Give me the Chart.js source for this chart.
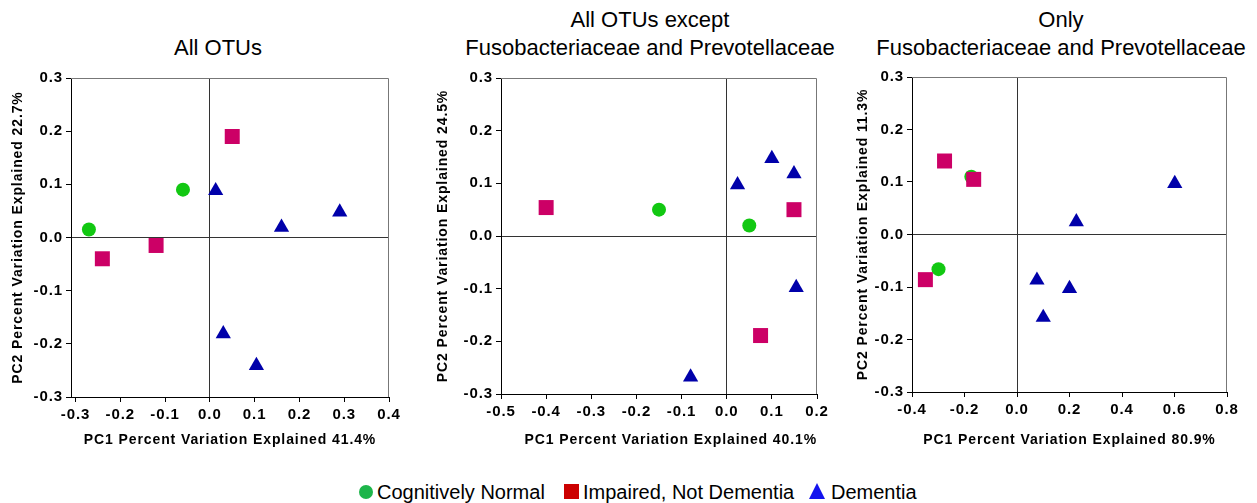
<!DOCTYPE html>
<html>
<head>
<meta charset="utf-8">
<script src="https://cdn.jsdelivr.net/npm/chart.js@4"></script>
<style>
body{margin:0;background:#fff;width:1257px;height:503px;position:relative;overflow:hidden;font-family:"Liberation Sans",Arial,sans-serif;color:#000}
.t{position:absolute;font-size:22px;line-height:28px;text-align:center;white-space:nowrap;transform:translateX(-50%)}
canvas{position:absolute;top:60px}
.lg{position:absolute;top:481px;font-size:20px;line-height:22px;white-space:nowrap}
.sym{position:absolute}
</style>
</head>
<body>
<div class="t" style="left:218px;top:34px">All OTUs</div>
<div class="t" style="left:650px;top:6px">All OTUs except<br>Fusobacteriaceae and Prevotellaceae</div>
<div class="t" style="left:1061px;top:6px">Only<br>Fusobacteriaceae and Prevotellaceae</div>

<canvas id="c1" width="410" height="400" style="left:0px"></canvas>
<canvas id="c2" width="420" height="400" style="left:420px"></canvas>
<canvas id="c3" width="417" height="400" style="left:840px"></canvas>

<div class="sym" style="left:359px;top:485px;width:14px;height:14px;border-radius:50%;background:#1db54a"></div>
<div class="lg" style="left:377px">Cognitively Normal</div>
<div class="sym" style="left:564px;top:484px;width:15px;height:15px;background:#cc0000"></div>
<div class="lg" style="left:583px">Impaired, Not Dementia</div>
<div class="sym" style="left:809px;top:483px;width:0;height:0;border-left:8.5px solid transparent;border-right:8.5px solid transparent;border-bottom:16px solid #1414ee"></div>
<div class="lg" style="left:831px">Dementia</div>

<script>
// tick values
const yTicks = [-0.3, -0.2, -0.1, 0, 0.1, 0.2, 0.3];
const xTicks1 = [-0.3, -0.2, -0.1, 0, 0.1, 0.2, 0.3, 0.4];
const xTicks2 = [-0.5, -0.4, -0.3, -0.2, -0.1, 0, 0.1, 0.2];
const xTicks3 = [-0.4, -0.2, 0, 0.2, 0.4, 0.6, 0.8];

// All OTUs
const normal1 = [[-0.27, 0.015], [-0.06, 0.09]];
const impaired1 = [[0.05, 0.19], [-0.12, -0.015], [-0.24, -0.04]];
const dementia1 = [[0.013, 0.088], [0.16, 0.019], [0.29, 0.048], [0.03, -0.181], [0.104, -0.241]];

// All OTUs except Fusobacteriaceae and Prevotellaceae
const normal2 = [[-0.15, 0.05], [0.05, 0.02]];
const impaired2 = [[-0.4, 0.054], [0.149, 0.05], [0.075, -0.189]];
const dementia2 = [[0.024, 0.097], [0.1, 0.147], [0.149, 0.118], [0.154, -0.098], [-0.08, -0.268]];

// Only Fusobacteriaceae and Prevotellaceae
const normal3 = [[-0.174, 0.11], [-0.299, -0.066]];
const impaired3 = [[-0.276, 0.14], [-0.165, 0.105], [-0.349, -0.086]];
const dementia3 = [[0.601, 0.097], [0.226, 0.024], [0.076, -0.087], [0.2, -0.103], [0.1, -0.158]];

const toPts = arr => arr.map(p => ({x: p[0], y: p[1]}));

const spacing = {
    id: 'spacing',
    beforeUpdate(c) { c.ctx.letterSpacing = '0.9px'; },
    beforeLayout(c) { c.ctx.letterSpacing = '0.9px'; },
    beforeDraw(c) { c.ctx.letterSpacing = '0.9px'; }
};

// top + right edges of the box
const frame = {
    id: 'frame',
    beforeDatasetsDraw(c) {
        const ctx = c.ctx, a = c.chartArea;
        ctx.save();
        ctx.strokeStyle = '#777';
        ctx.lineWidth = 1;
        ctx.beginPath();
        ctx.moveTo(a.left, Math.round(a.top) + 0.5);
        ctx.lineTo(Math.round(a.right) - 0.5, Math.round(a.top) + 0.5);
        ctx.lineTo(Math.round(a.right) - 0.5, a.bottom);
        ctx.stroke();
        ctx.restore();
    }
};

const tickFont = {family: '"Liberation Sans", Arial, sans-serif', size: 15, weight: 'bold'};
const titleFont = {family: '"Liberation Sans", Arial, sans-serif', size: 14, weight: 'bold'};
const zeroLine = ctx => (ctx.tick && Math.abs(ctx.tick.value) < 1e-9) ? '#333' : 'rgba(0,0,0,0)';

function makeChart(id, p) {
    new Chart(document.getElementById(id), {
        type: 'scatter',
        data: {
            datasets: [
                {label: 'Cognitively Normal', data: toPts(p.normal), pointStyle: 'circle', pointRadius: 7,
                 backgroundColor: '#12c812', pointBorderWidth: 0, order: 3},
                {label: 'Impaired, Not Dementia', data: toPts(p.impaired), pointStyle: 'rect', pointRadius: 10.6,
                 backgroundColor: '#cc0066', pointBorderWidth: 0, order: 2},
                {label: 'Dementia', data: toPts(p.dementia), pointStyle: 'triangle', pointRadius: 8.8,
                 backgroundColor: '#0000aa', pointBorderWidth: 0, order: 1}
            ]
        },
        options: {
            responsive: false,
            animation: false,
            events: [],
            layout: {padding: {top: p.top - 60, right: p.left + p.w - p.right, left: 0, bottom: 0}},
            plugins: {legend: {display: false}, tooltip: {enabled: false}},
            scales: {
                x: {
                    type: 'linear', min: p.xMin, max: p.xMax,
                    afterBuildTicks: s => { s.ticks = p.xTicks.map(v => ({value: v})); },
                    afterFit: s => { s.height = 460 - p.bottom; },
                    grid: {color: zeroLine, tickColor: '#000', tickLength: 5, drawOnChartArea: true},
                    border: {color: '#000', width: 1},
                    ticks: {color: '#000', font: tickFont, padding: 4, maxRotation: 0, autoSkip: false,
                            callback: v => v.toFixed(1)},
                    title: {display: true, text: p.xTitle, color: '#000', font: titleFont, align: p.xAlign || 'center',
                            padding: {top: 0, bottom: 11.6}}
                },
                y: {
                    type: 'linear', min: -0.3, max: 0.3,
                    afterBuildTicks: s => { s.ticks = yTicks.map(v => ({value: v})); },
                    afterFit: s => { s.width = p.areaLeft - p.left; },
                    grid: {color: zeroLine, tickColor: '#000', tickLength: 5, drawOnChartArea: true},
                    border: {color: '#000', width: 1},
                    ticks: {color: '#000', font: tickFont, padding: 3, autoSkip: false,
                            callback: v => v.toFixed(1)},
                    title: {display: true, text: p.yTitle, color: '#000', font: titleFont,
                            padding: {top: p.yPad, bottom: 0}}
                }
            }
        },
        plugins: [spacing, frame]
    });
}

makeChart('c1', {left: 0, w: 410, top: 78, areaLeft: 71, right: 389, bottom: 397, yPad: 9.6,
    xMin: -0.31, xMax: 0.4, xTicks: xTicks1,
    xTitle: 'PC1 Percent Variation Explained 41.4%', yTitle: 'PC2 Percent Variation Explained 22.7%',
    normal: normal1, impaired: impaired1, dementia: dementia1});

makeChart('c2', {left: 420, w: 420, top: 78, areaLeft: 501, right: 817, bottom: 394, yPad: 14.6,
    xMin: -0.5, xMax: 0.2, xTicks: xTicks2, xAlign: 'end',
    xTitle: 'PC1 Percent Variation Explained 40.1%', yTitle: 'PC2 Percent Variation Explained 24.5%',
    normal: normal2, impaired: impaired2, dementia: dementia2});

makeChart('c3', {left: 840, w: 417, top: 77, areaLeft: 912, right: 1227, bottom: 392, yPad: 14.6,
    xMin: -0.4, xMax: 0.8, xTicks: xTicks3,
    xTitle: 'PC1 Percent Variation Explained 80.9%', yTitle: 'PC2 Percent Variation Explained 11.3%',
    normal: normal3, impaired: impaired3, dementia: dementia3});
</script>
</body>
</html>
